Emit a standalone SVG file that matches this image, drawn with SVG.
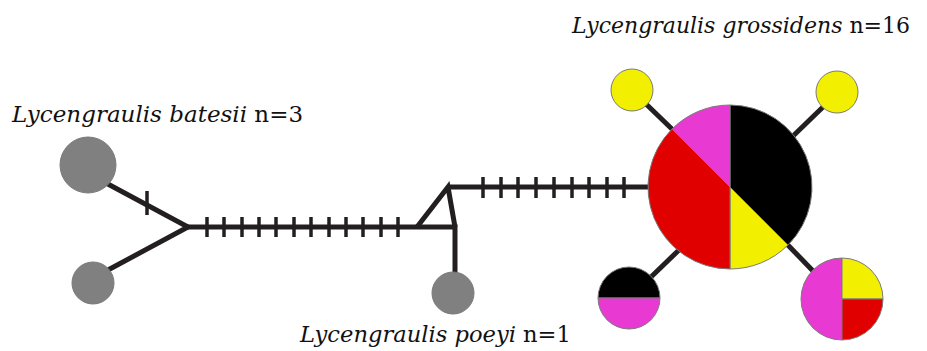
<svg xmlns="http://www.w3.org/2000/svg" width="927" height="351" viewBox="0 0 927 351">
  <style>
    .edge { fill: none; stroke: #231f20; stroke-width: 5; stroke-linecap: butt; stroke-linejoin: miter; }
    .tick { stroke: #231f20; stroke-width: 3.5; }
    .node { stroke: #7a7a7a; stroke-width: 1; }
    .gray { fill: #808080; }
    .blk { fill: #000000; }
    .mag { fill: #e83ad2; }
    .red { fill: #e10000; }
    .yel { fill: #f2f000; }
    .label { font-family: "DejaVu Serif", serif; font-size: 23px; fill: #111111; }
    .sp { font-style: italic; }
  </style>

  <!-- connectors (drawn first so nodes sit on top) -->
  <g id="connectors">
    <path class="edge" d="M106,183 L188,227 L108,270"/>
    <path class="edge" d="M188,227 L455,227 L455,276"/>
    <path class="edge" d="M417,227 L448,187 L455,227"/>
    <path class="edge" d="M448,187 L650,187"/>
    <path class="edge" d="M645,103 L674,131"/>
    <path class="edge" d="M823,107 L792,137"/>
    <path class="edge" d="M680,249 L651,277"/>
    <path class="edge" d="M785,242 L814,272"/>
    <!-- mutation ticks -->
    <g class="tick">
      <line x1="147" y1="191" x2="147" y2="215"/>
      <line x1="207" y1="217" x2="207" y2="237"/>
      <line x1="224" y1="217" x2="224" y2="237"/>
      <line x1="242" y1="217" x2="242" y2="237"/>
      <line x1="259" y1="217" x2="259" y2="237"/>
      <line x1="276" y1="217" x2="276" y2="237"/>
      <line x1="294" y1="217" x2="294" y2="237"/>
      <line x1="311" y1="217" x2="311" y2="237"/>
      <line x1="329" y1="217" x2="329" y2="237"/>
      <line x1="346" y1="217" x2="346" y2="237"/>
      <line x1="363" y1="217" x2="363" y2="237"/>
      <line x1="381" y1="217" x2="381" y2="237"/>
      <line x1="398" y1="217" x2="398" y2="237"/>
      <line x1="483" y1="177" x2="483" y2="198"/>
      <line x1="501" y1="177" x2="501" y2="198"/>
      <line x1="518" y1="177" x2="518" y2="198"/>
      <line x1="536" y1="177" x2="536" y2="198"/>
      <line x1="554" y1="177" x2="554" y2="198"/>
      <line x1="572" y1="177" x2="572" y2="198"/>
      <line x1="589" y1="177" x2="589" y2="198"/>
      <line x1="607" y1="177" x2="607" y2="198"/>
      <line x1="624" y1="177" x2="624" y2="198"/>
    </g>
  </g>

  <!-- L. batesii haplotypes -->
  <g id="batesii-a"><circle class="node gray" cx="88" cy="165" r="28"/></g>
  <g id="batesii-b"><circle class="node gray" cx="93" cy="283" r="21"/></g>

  <!-- L. poeyi haplotype -->
  <g id="poeyi"><circle class="node gray" cx="453" cy="293" r="21"/></g>

  <!-- L. grossidens central haplotype -->
  <g id="grossidens-main" class="node">
    <path class="blk" d="M730,187 L730,105 A82,82 0 0,1 787.98,244.98 Z"/>
    <path class="yel" d="M730,187 L787.98,244.98 A82,82 0 0,1 730,269 Z"/>
    <path class="red" d="M730,187 L730,269 A82,82 0 0,1 672.02,129.02 Z"/>
    <path class="mag" d="M730,187 L672.02,129.02 A82,82 0 0,1 730,105 Z"/>
  </g>

  <!-- L. grossidens peripheral haplotypes -->
  <g id="grossidens-tl"><circle class="node yel" cx="632" cy="90" r="21"/></g>
  <g id="grossidens-tr"><circle class="node yel" cx="837" cy="92" r="21"/></g>
  <g id="grossidens-bl" class="node">
    <path class="blk" d="M598,298 A31,31 0 0,1 660,298 Z"/>
    <path class="mag" d="M660,298 A31,31 0 0,1 598,298 Z"/>
  </g>
  <g id="grossidens-br" class="node">
    <path class="mag" d="M842,258 A41,41 0 0,0 842,340 Z"/>
    <path class="yel" d="M842,299 L842,258 A41,41 0 0,1 883,299 Z"/>
    <path class="red" d="M842,299 L883,299 A41,41 0 0,1 842,340 Z"/>
  </g>

  <!-- species labels: italic binomial followed by sample size -->
  <g id="labels">
    <text class="label" x="12" y="122"><tspan class="sp">Lycengraulis batesii</tspan> n=3</text>
    <text class="label" x="300" y="342" style="font-size:22.6px"><tspan class="sp">Lycengraulis poeyi</tspan> n=1</text>
    <text class="label" x="572" y="33" style="font-size:22px"><tspan class="sp">Lycengraulis grossidens</tspan> n=16</text>
  </g>
</svg>
